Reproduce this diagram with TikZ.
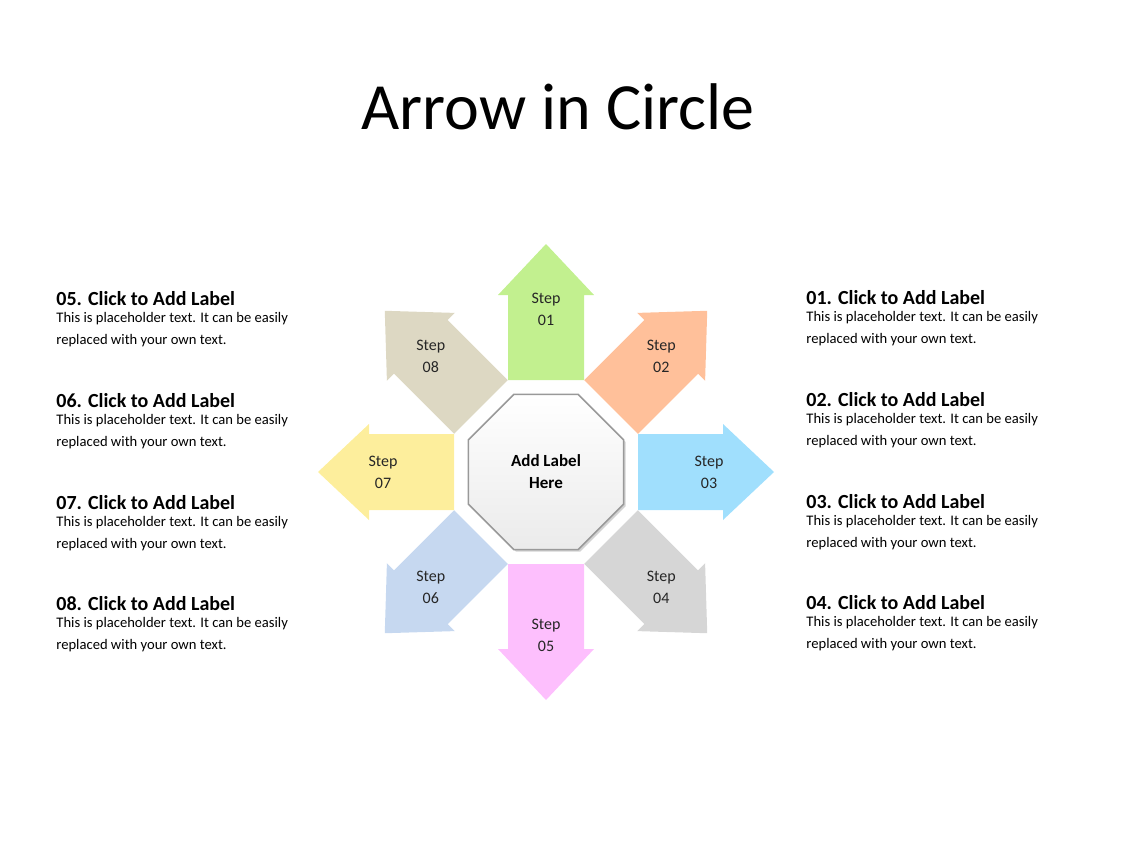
\documentclass[tikz,border=0pt]{standalone}
\usepackage{fontspec}
\setmainfont{Carlito}
\usetikzlibrary{shapes.geometric,shadows,calc}
\definecolor{c1}{HTML}{C2F08F}
\definecolor{c2}{HTML}{FFC09A}
\definecolor{c3}{HTML}{A0DFFD}
\definecolor{c4}{HTML}{D6D6D6}
\definecolor{c5}{HTML}{FDBFFD}
\definecolor{c6}{HTML}{C6D8F0}
\definecolor{c7}{HTML}{FDEE9C}
\definecolor{c8}{HTML}{DDD8C3}
\tikzset{
  head/.style={anchor=west,font=\fontsize{10}{12}\selectfont\bfseries,inner sep=0pt},
  body/.style={anchor=north west,font=\fontsize{7.3}{11}\selectfont,align=left,inner sep=0pt},
  steplbl/.style={font=\fontsize{8}{11}\selectfont,align=center,text=black!85},
}
\begin{document}
\begin{tikzpicture}[x=0.5pt,y=0.5pt]
\useasboundingbox (0,0) rectangle (1128,-846);
\node (title) at (558,-107) {\fontsize{33}{36}\selectfont Arrow in Circle};
\foreach \ang/\col/\num in {90/c1/01,45/c2/02,0/c3/03,-45/c4/04,-90/c5/05,-135/c6/06,180/c7/07,135/c8/08}{
  \begin{scope}[shift={(546,-472)},rotate=\ang]
    \fill[\col] (92,-38)--(177,-38)--(177,-48)--(228,0)--(177,48)--(177,38)--(92,38)--cycle;
  \end{scope}
  \node[steplbl] (s\num) at ($(546,-472)+(\ang:163)$) {Step\\\num};
}
\node[regular polygon,regular polygon sides=8,minimum size=84pt,inner sep=0pt,
  top color=white,bottom color=black!8,draw=black!40,line width=0.8pt,
  drop shadow={opacity=0.35,shadow xshift=1pt,shadow yshift=-1pt},
  font=\fontsize{8.5}{11}\selectfont\bfseries,align=center] (oct) at (546,-472) {Add Label\\Here};
\foreach \n/\y in {05/299,06/401,07/503,08/604}{
  \node[head] (h\n) at (56,-\y) {\n. Click to Add Label};
  \node[body] (b\n) at (56,-\y-13) {This is placeholder text. It can be easily\\replaced with your own text.};
}
\foreach \n/\y in {01/298,02/400,03/502,04/603}{
  \node[head] (h\n) at (806,-\y) {\n. Click to Add Label};
  \node[body] (b\n) at (806,-\y-13) {This is placeholder text. It can be easily\\replaced with your own text.};
}
\end{tikzpicture}
\end{document}
